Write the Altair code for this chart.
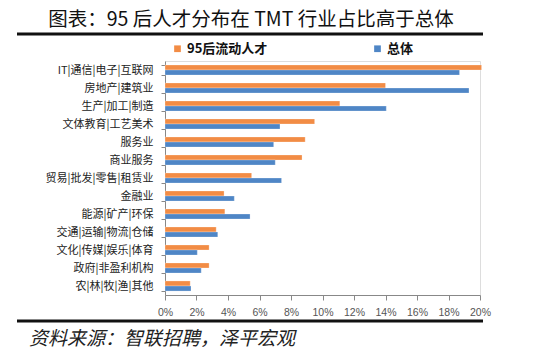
import altair as alt
import pandas as pd

categories = ["IT|通信|电子|互联网", "房地产|建筑业", "生产|加工|制造", "文体教育|工艺美术",
              "服务业", "商业服务", "贸易|批发|零售|租赁业", "金融业", "能源|矿产|环保",
              "交通|运输|物流|仓储", "文化|传媒|娱乐|体育", "政府|非盈利机构", "农|林|牧|渔|其他"]
series_names = ["95后流动人才", "总体"]
young = [20.1, 14.0, 11.1, 9.5, 8.9, 8.7, 5.5, 3.75, 3.8, 3.25, 2.8, 2.8, 1.6]
overall = [18.7, 19.3, 14.05, 7.3, 6.9, 7.0, 7.4, 4.4, 5.4, 3.35, 2.05, 2.3, 1.65]
x_ticks = [0, 2, 4, 6, 8, 10, 12, 14, 16, 18, 20]
title_text = "图表：95 后人才分布在 TMT 行业占比高于总体"
source_text = "资料来源：智联招聘，泽平宏观"

rows = []
for c, a, b in zip(categories, young, overall):
    rows.append({"cat": c, "series": series_names[0], "value": a / 100})
    rows.append({"cat": c, "series": series_names[1], "value": b / 100})
df = pd.DataFrame(rows)

W, H = 315, 234
CJK = "Noto Sans CJK SC"

bars = alt.Chart(df).mark_bar(stroke="white", strokeOpacity=0.5, strokeWidth=0.5).encode(
    y=alt.Y("cat:N", sort=categories,
            scale=alt.Scale(paddingInner=0.44, paddingOuter=0.22),
            axis=alt.Axis(title=None, tickBand="extent", tickSize=4, tickColor="#888888",
                          domainColor="#888888", labelFont=CJK, labelFontSize=11,
                          labelColor="#222222", labelPadding=8, labelLimit=200)),
    yOffset=alt.YOffset("series:N", sort=series_names, scale=alt.Scale(paddingInner=0.0)),
    x=alt.X("value:Q", scale=alt.Scale(domain=[0, 0.2], nice=False),
            axis=alt.Axis(title=None, values=[v / 100 for v in x_ticks], format=".0%",
                          grid=False, tickSize=5, tickColor="#888888", domainColor="#888888",
                          labelFont="Liberation Sans", labelFontSize=10.5, labelColor="#555555",
                          labelPadding=7, labelOverlap=False, labelFlush=False)),
    color=alt.Color("series:N", sort=series_names,
                    scale=alt.Scale(domain=series_names, range=["#F28C45", "#4F86C6"]),
                    legend=alt.Legend(title=None, orient="none", legendX=6, legendY=-19,
                                      direction="horizontal", symbolType="square", symbolSize=45,
                                      labelFont=CJK, labelFontSize=13, labelFontWeight="bold",
                                      labelColor="#111111", columnPadding=103, symbolStrokeWidth=0,
                                      labelOffset=3)),
)

one = alt.Data(values=[{"a": 1}])

title = alt.Chart(one).mark_text(font=CJK, fontSize=19.5, align="center", baseline="middle",
                                 color="#111111").encode(
    text=alt.value(title_text), x=alt.value(86), y=alt.value(-41))

line1 = alt.Chart(one).mark_rule(color="#111111", strokeWidth=3).encode(
    x=alt.value(-148), x2=alt.value(318), y=alt.value(-27))
line2 = alt.Chart(one).mark_rule(color="#111111", strokeWidth=3).encode(
    x=alt.value(-148), x2=alt.value(318), y=alt.value(260))

source = alt.Chart(one).mark_text(font=CJK, fontSize=19, fontStyle="italic", align="left",
                                  baseline="middle", color="#222222").encode(
    text=alt.value(source_text), x=alt.value(-136), y=alt.value(278))

chart = alt.layer(bars, title, line1, line2, source).properties(
    width=W, height=H,
    autosize=alt.AutoSizeParams(type="none"),
    padding={"left": 165, "top": 61, "right": 70, "bottom": 60},
).configure_view(stroke=None).configure(background="white")

chart.save("out.html", embed_options={"renderer": "svg", "actions": False})
